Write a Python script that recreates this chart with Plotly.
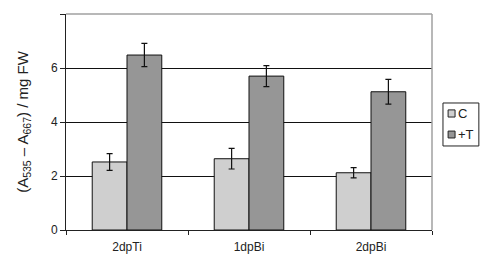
import plotly.graph_objects as go

categories = ["2dpTi", "1dpBi", "2dpBi"]
c_values = [2.52, 2.64, 2.12]
c_errors = [0.31, 0.38, 0.19]
t_values = [6.48, 5.70, 5.12]
t_errors = [0.43, 0.39, 0.46]
series_names = ["C", "+T"]
series_colors = ["#cfcfcf", "#969696"]
y_ticks = [0, 2, 4, 6, 8]

font = "Liberation Sans, Arial, sans-serif"

fig = go.Figure()
for name, vals, errs, col in [(series_names[0], c_values, c_errors, series_colors[0]),
                               (series_names[1], t_values, t_errors, series_colors[1])]:
    fig.add_trace(go.Bar(
        x=categories, y=vals, name=name, showlegend=False,
        marker=dict(color=col, line=dict(color="#111", width=1)),
        error_y=dict(type="data", array=errs, color="#111", thickness=1.2, width=3),
    ))

# page body has an 8px margin, so the figure is shrunk/offset accordingly
fig.update_layout(
    width=482, height=256,
    margin=dict(l=58, r=58, t=6, b=34, autoexpand=False),
    paper_bgcolor="white", plot_bgcolor="white",
    barmode="group", bargap=0.43, bargroupgap=0,
    font=dict(family=font, size=12, color="#222"),
    xaxis=dict(type="category", tickson="boundaries", ticks="outside", ticklen=4,
               tickcolor="#222", showline=True, linecolor="#222", linewidth=1,
               showgrid=False, tickfont=dict(size=12), range=[-0.5, 2.5],
               ticklabelstandoff=6),
    yaxis=dict(range=[0, 8], tickvals=y_ticks, ticks="outside", ticklen=5,
               tickcolor="#222", showline=True, linecolor="#222", linewidth=1,
               showgrid=True, gridcolor="#111", gridwidth=1, zeroline=False,
               tickfont=dict(size=12),
               title=dict(text="(A<sub>535</sub> \u2013 A<sub>667</sub>) / mg FW",
                          font=dict(size=15), standoff=18)),
)
# gray plot-area border on top and right
fig.add_shape(type="line", xref="paper", yref="paper", x0=0, x1=1, y0=1, y1=1,
              line=dict(color="#a0a0a0", width=1.5), layer="above")
fig.add_shape(type="line", xref="paper", yref="paper", x0=1, x1=1, y0=0, y1=1,
              line=dict(color="#a0a0a0", width=1.5), layer="above")

# legend box drawn manually (Excel-style compact legend)
fig.add_shape(type="rect", xref="paper", yref="paper", x0=1.030, x1=1.128,
              y0=0.389, y1=0.588, line=dict(color="#222", width=1),
              fillcolor="white")
leg_rows = [(0.556, 0.523), (0.458, 0.426)]
for (ytop, ybot), name, col in zip(leg_rows, series_names, series_colors):
    fig.add_shape(type="rect", xref="paper", yref="paper", x0=1.044, x1=1.063,
                  y0=ybot, y1=ytop, line=dict(color="#222", width=1), fillcolor=col)
    fig.add_annotation(xref="paper", yref="paper", x=1.066, y=(ytop + ybot) / 2,
                       text=name, showarrow=False, xanchor="left", yanchor="middle",
                       font=dict(size=13, color="#222"))

fig.write_html("out.html")
